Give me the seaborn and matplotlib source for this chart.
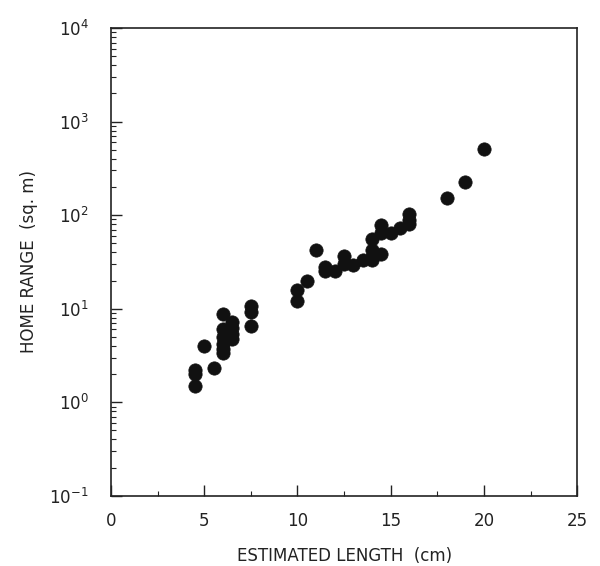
import matplotlib
matplotlib.use("Agg")
import matplotlib.pyplot as plt
import matplotlib.ticker as mticker
import seaborn as sns
import pandas as pd

length_cm = [4.5, 4.5, 4.5, 5.0, 5.5, 6.0, 6.0, 6.0, 6.0, 6.0, 6.0, 6.5, 6.5, 6.5, 6.5,
             7.5, 7.5, 7.5, 10.0, 10.0, 10.5, 11.0, 11.5, 11.5, 12.0, 12.5, 12.5, 13.0,
             13.5, 14.0, 14.0, 14.0, 14.0, 14.5, 14.5, 14.5, 15.0, 15.5, 16.0, 16.0, 16.0,
             18.0, 19.0, 20.0]
home_range = [2.2, 2.0, 1.5, 4.0, 2.3, 8.8, 6.0, 5.0, 4.2, 3.7, 3.4, 7.2, 6.2, 5.4, 4.7,
              10.8, 9.2, 6.6, 16, 12, 20, 42, 28, 25, 25, 37, 30, 29,
              33, 56, 42, 36, 33, 78, 65, 38, 64, 72, 102, 88, 80,
              152, 225, 510]
x_ticks = [0, 5, 10, 15, 20, 25]
y_exponents = [-1, 0, 1, 2, 3, 4]

df = pd.DataFrame({"length": length_cm, "range": home_range})

sns.set_theme(style="white")
plt.rcParams['font.family'] = ['DejaVu Sans']

fig = plt.figure(figsize=(6.0, 5.66), dpi=100)
ax = fig.add_axes([0.185, 0.124, 0.777, 0.8265])

sns.scatterplot(data=df, x="length", y="range", ax=ax, color="#111111",
                s=92, edgecolor="#111111", linewidth=0.5, legend=False)

ax.set_yscale("log")
ax.set_xlim(0, 25)
ax.set_ylim(0.1, 1e4)
ax.set_xticks(x_ticks)
ax.set_xticklabels([str(t) for t in x_ticks])
ax.xaxis.set_minor_locator(mticker.MultipleLocator(2.5))
ax.set_yticks([10.0 ** e for e in y_exponents])
ax.set_yticklabels([f"$10^{{{e}}}$" for e in y_exponents])
ax.yaxis.set_minor_locator(mticker.LogLocator(base=10, subs=range(2, 10)))
ax.yaxis.set_minor_formatter(mticker.NullFormatter())

ax.tick_params(axis="x", which="major", pad=12)
ax.tick_params(axis="y", which="major", pad=16)
ax.tick_params(axis="both", which="major", direction="in", length=8, width=1,
               color="#222222", labelsize=12, labelcolor="#222222",
               top=False, right=False, left=True, bottom=True)
ax.tick_params(axis="both", which="minor", direction="in", length=3.5, width=0.8,
               color="#222222", top=False, right=False, left=True, bottom=True)

for sp in ax.spines.values():
    sp.set_color("#222222")
    sp.set_linewidth(1.2)

ax.set_xlabel("ESTIMATED LENGTH  (cm)", fontsize=12, color="#222222", labelpad=12)
ax.set_ylabel("HOME RANGE  (sq. m)", fontsize=12, color="#222222", labelpad=8)

fig.savefig("out.png", dpi=100, facecolor="white")
